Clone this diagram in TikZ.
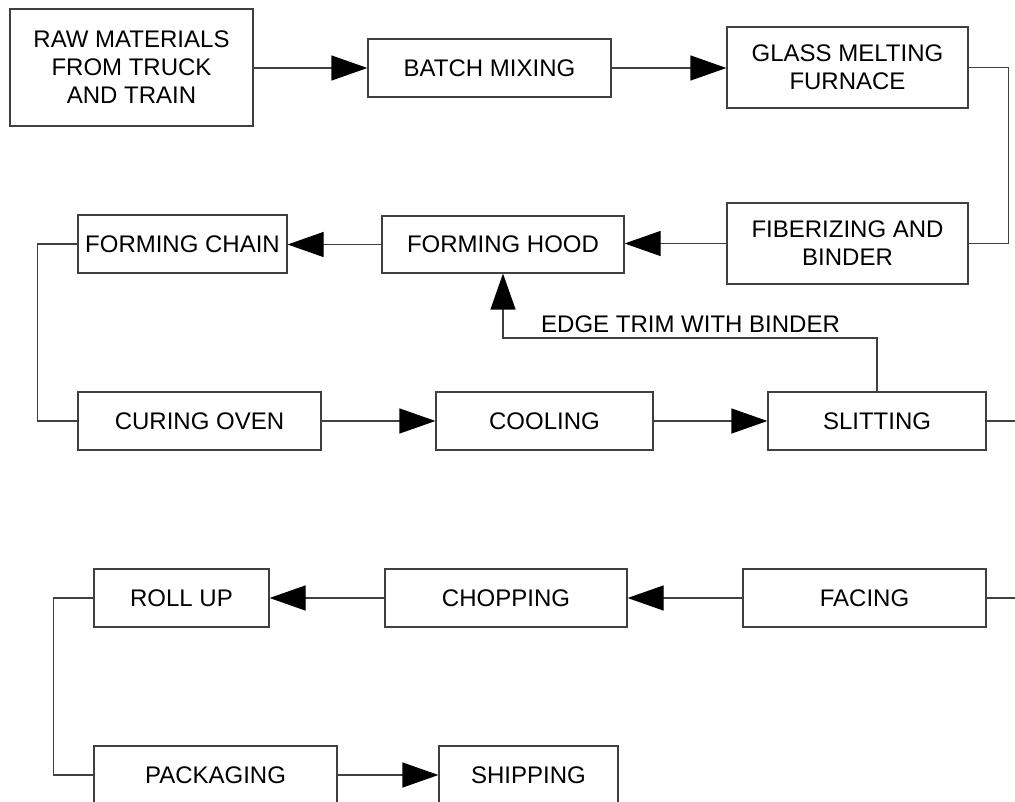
\documentclass[tikz,border=0pt]{standalone}
\usepackage{fontspec}
\setmainfont{Liberation Sans}
\usepackage{tikz}
\usetikzlibrary{positioning,arrows.meta,calc}

\tikzset{
    stage/.style={draw=black!75, line width=1.2pt, inner sep=0pt, align=center,
        font=\fontsize{24}{28}\selectfont},
    flow/.style={draw=black!75, line width=1.2pt,
        -{Triangle[length=36pt,width=25pt,black]}},
    link/.style={draw=black!75, line width=1.2pt}
}

\begin{document}
\begin{tikzpicture}[x=1pt, y=-1pt]
    \useasboundingbox (0,0) rectangle (1015,802);

    % First row
    \node[stage, minimum width=243pt, minimum height=117pt] (raw) at (131.5,67.5) {RAW MATERIALS\\FROM TRUCK\\AND TRAIN};
    \node[stage, minimum width=243pt, minimum height=58pt] (batch) at (489.5,68) {BATCH MIXING};
    \node[stage, minimum width=241pt, minimum height=81pt] (glass) at (847.5,67.5) {GLASS MELTING\\FURNACE};

    % Second row
    \node[stage, minimum width=241pt, minimum height=81pt] (fiber) at (847.5,243.5) {FIBERIZING AND\\BINDER};
    \node[stage, minimum width=242pt, minimum height=57pt] (hood) at (503,244.5) {FORMING HOOD};
    \node[stage, minimum width=209pt, minimum height=58pt] (chain) at (182.5,244) {FORMING CHAIN};

    % Third row
    \node[stage, minimum width=243pt, minimum height=58pt] (curing) at (199.5,421) {CURING OVEN};
    \node[stage, minimum width=217pt, minimum height=58pt] (cooling) at (544.5,421) {COOLING};
    \node[stage, minimum width=218pt, minimum height=58pt] (slitting) at (877,421) {SLITTING};

    % Fourth row
    \node[stage, minimum width=243pt, minimum height=58pt] (facing) at (864.5,598) {FACING};
    \node[stage, minimum width=242pt, minimum height=58pt] (chopping) at (506,598) {CHOPPING};
    \node[stage, minimum width=175pt, minimum height=58pt] (rollup) at (181.5,598) {ROLL UP};

    % Last row
    \node[stage, minimum width=243pt, minimum height=58pt] (packaging) at (215.5,775) {PACKAGING};
    \node[stage, minimum width=179pt, minimum height=58pt] (shipping) at (528.5,775) {SHIPPING};

    % Edge trim return
    \coordinate (trim) at (877,338);
    \node[anchor=base west, inner sep=0pt, font=\fontsize{24}{28}\selectfont] (trimlbl) at (541,333) {EDGE TRIM WITH BINDER};
    \draw[flow] (slitting.north) -- (trim) -| (hood.south);

    % Runs off the right edge
    \coordinate (outA) at (1015,421);
    \coordinate (outB) at (1015,598);

    % Connectors
    \draw[flow] (raw.east |- batch.west) -- (batch.west);
    \draw[flow] (batch.east) -- (glass.west |- batch.east);
    \draw[link] (glass.east) -- ++(40,0) |- (fiber.east);
    \draw[flow] (fiber.west) -- (hood.east |- fiber.west);
    \draw[flow] (hood.west) -- (chain.east |- hood.west);
    \draw[link] (chain.west) -- ++(-40,0) |- (curing.west);
    \draw[flow] (curing.east) -- (cooling.west);
    \draw[flow] (cooling.east) -- (slitting.west);
    \draw[link] (slitting.east) -- (outA);
    \draw[link] (outB) -- (facing.east);
    \draw[flow] (facing.west) -- (chopping.east);
    \draw[flow] (chopping.west) -- (rollup.east);
    \draw[link] (rollup.west) -- ++(-40,0) |- (packaging.west);
    \draw[flow] (packaging.east) -- (shipping.west);
\end{tikzpicture}
\end{document}
